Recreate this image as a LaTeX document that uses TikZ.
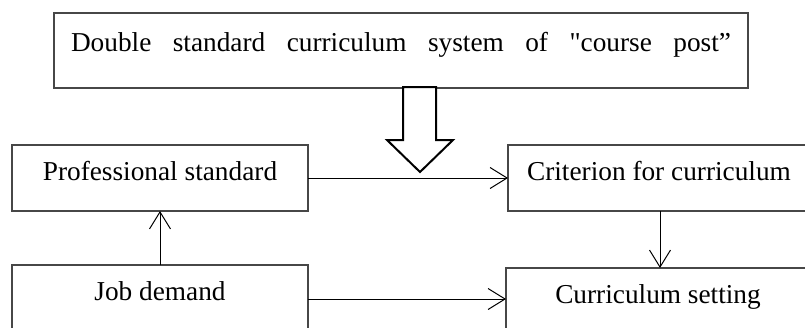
\documentclass[tikz,border=0pt]{standalone}
\usepackage{fontspec}
\setmainfont{Liberation Serif}
\newfontfamily\qfont{Liberation Serif}[Ligatures=Common]
\usetikzlibrary{arrows.meta}
\begin{document}
\begin{tikzpicture}[x=1pt,y=-1pt,
  box/.style={draw=black!72, line width=1.4pt, rectangle, inner sep=0pt, outer sep=0pt,
    font=\fontsize{27.3}{30}\selectfont, text height=0.66em, text depth=0.15em},
  conn/.style={draw=black, line width=1pt, -{Straight Barb[length=17pt,width=21pt,line width=1pt]}}]
\useasboundingbox (0,0) rectangle (805,327);
\clip (0,0) rectangle (805,327);
\fill[white] (0,0) rectangle (805,327);
% top box
\node[box, minimum width=694pt, minimum height=75pt, text height=0.66em, text depth=0.48em] (top) at (401,50.5)
  {\makebox[660pt][s]{Double standard curriculum system of {\qfont"}course post”}};
% boxes
\node[box, minimum width=296pt, minimum height=66pt] (prof) at (160,178) {Professional standard};
\node[box, minimum width=302pt, minimum height=66pt] (crit) at (659,178) {Criterion for curriculum};
\node[box, minimum width=296pt, minimum height=66pt] (job) at (160,298) {Job demand};
\node[box, minimum width=304pt, minimum height=66pt] (cur) at (658,301) {Curriculum setting};
% big hollow arrow
\draw[line width=2pt, fill=white, line join=miter]
  (403,87) -- (403,140) -- (387,140) -- (420,172) -- (453,140) -- (436,140) -- (436,87) -- cycle;
% connectors
\draw[conn] (prof.east) -- (crit.west);
\draw[conn] ([yshift=-1pt]job.east) -- ([yshift=-1pt]job.east -| cur.west);
\draw[conn] (job.north) -- (prof.south);
\draw[conn] ([xshift=1pt]crit.south) -- ([xshift=1pt]crit.south |- cur.north);
\end{tikzpicture}
\end{document}
